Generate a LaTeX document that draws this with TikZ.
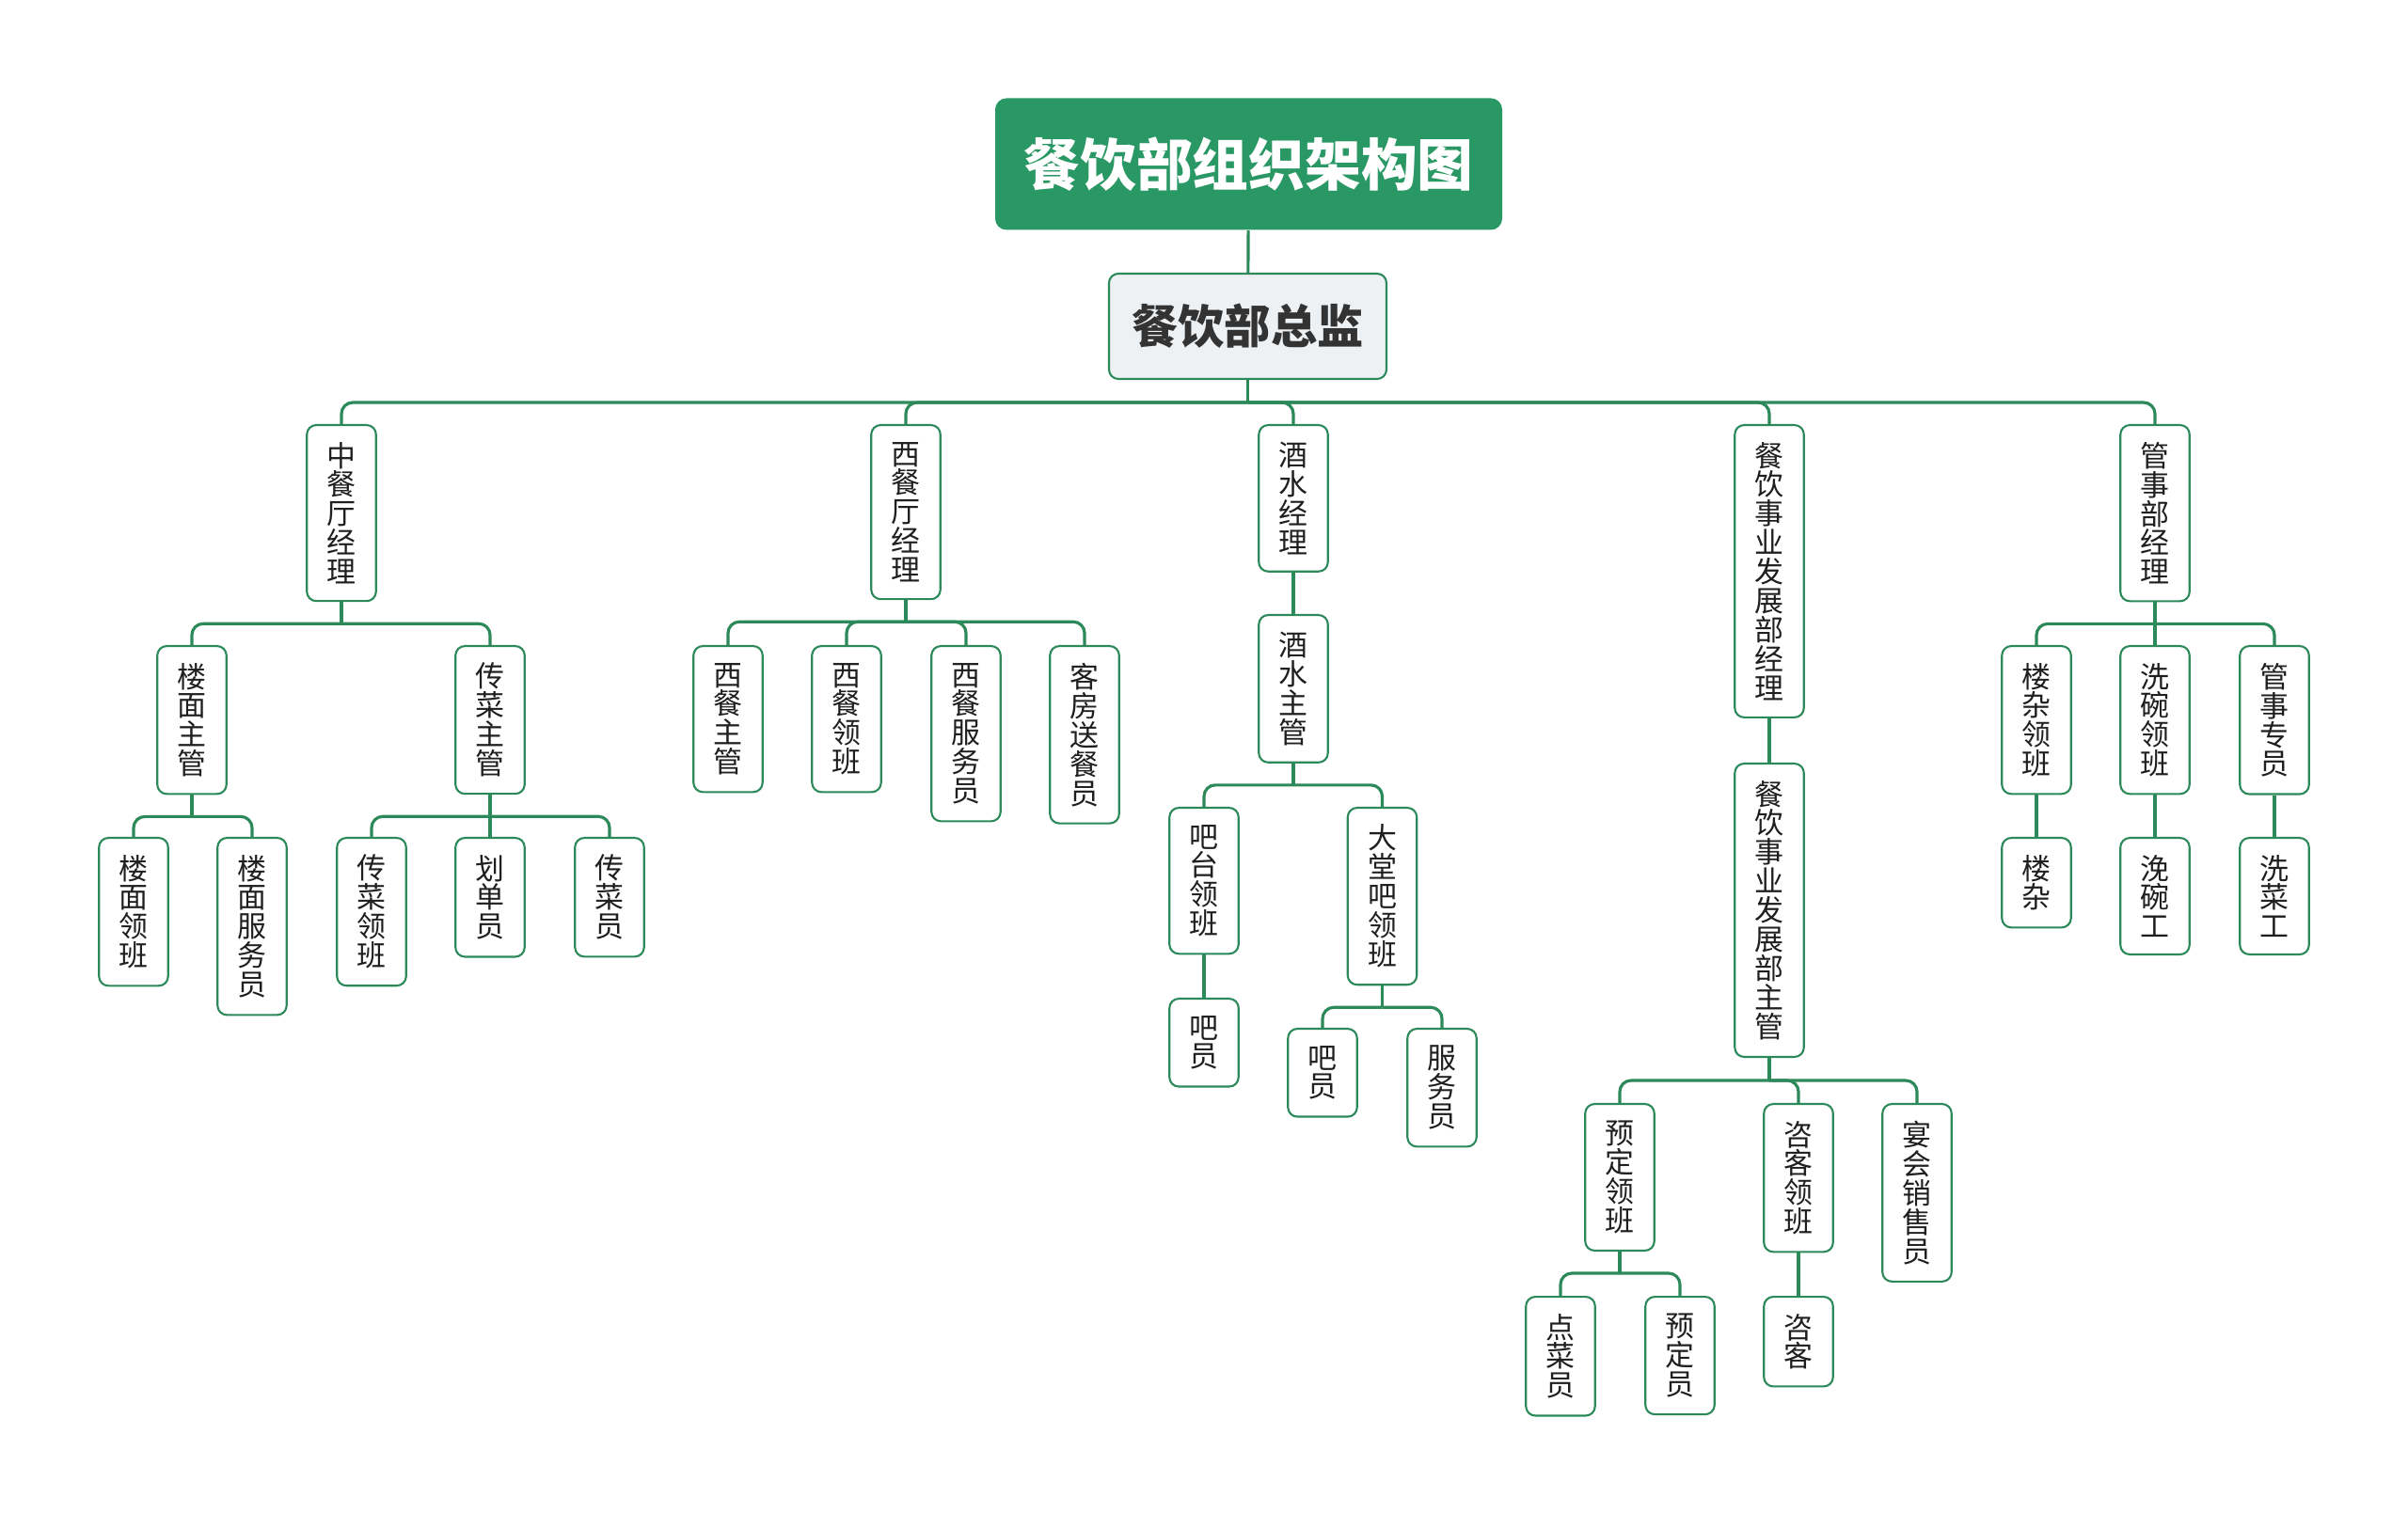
\documentclass[tikz,border=0pt]{standalone}
\usepackage{fontspec}
\newfontfamily\cjk{Noto Sans CJK SC}
\usetikzlibrary{positioning,calc}
\definecolor{mgreen}{RGB}{41,152,101}
\definecolor{lgreen}{RGB}{44,137,90}
\definecolor{dgray}{RGB}{51,51,51}
\definecolor{lgray}{RGB}{237,241,244}
\tikzset{font=\cjk}

\begin{document}
\begin{tikzpicture}
	\useasboundingbox (0,0) rectangle (25.6,-16.09);
	\begin{scope}
		\tikzstyle{box}=[draw=lgreen, line width=0.6pt, fill=white, rounded corners=0.1cm, minimum width=0.735cm, inner xsep=0pt, inner ysep=0.18cm, anchor=north, align=center, text=black!88, font=\cjk\fontsize{8.8pt}{8.8pt}\selectfont]
		\tikzstyle{conn}=[draw=lgreen, line width=0.9pt, rounded corners=0.12cm]

		\node[fill=mgreen, rounded corners=0.12cm, minimum width=5.39cm, minimum height=1.4cm, text=white, font=\cjk\bfseries\fontsize{17pt}{17pt}\selectfont] (t) at (13.275, -1.745) {餐饮部组织架构图};
		\node[draw=lgreen, fill=lgray, line width=0.6pt, rounded corners=0.1cm, minimum width=2.95cm, minimum height=1.12cm, text=dgray, font=\cjk\bfseries\fontsize{14pt}{14pt}\selectfont] (d) at (13.265, -3.47) {餐饮部总监};

		\node[box] (zc) at (3.63, -4.51) {中\\餐\\厅\\经\\理};
		\node[box] (xc) at (9.63, -4.51) {西\\餐\\厅\\经\\理};
		\node[box] (js) at (13.75, -4.51) {酒\\水\\经\\理};
		\node[box] (fz) at (18.81, -4.51) {餐\\饮\\事\\业\\发\\展\\部\\经\\理};
		\node[box] (gs) at (22.91, -4.51) {管\\事\\部\\经\\理};

		\node[box] (lm) at (2.04, -6.86) {楼\\面\\主\\管};
		\node[box] (cc) at (5.21, -6.86) {传\\菜\\主\\管};
		\node[box] (lm1) at (1.42, -8.90) {楼\\面\\领\\班};
		\node[box] (lm2) at (2.68, -8.90) {楼\\面\\服\\务\\员};
		\node[box] (cc1) at (3.95, -8.90) {传\\菜\\领\\班};
		\node[box] (cc2) at (5.21, -8.90) {划\\单\\员};
		\node[box] (cc3) at (6.48, -8.90) {传\\菜\\员};

		\node[box] (xc1) at (7.74, -6.86) {西\\餐\\主\\管};
		\node[box] (xc2) at (9.00, -6.86) {西\\餐\\领\\班};
		\node[box] (xc3) at (10.27, -6.86) {西\\餐\\服\\务\\员};
		\node[box] (xc4) at (11.53, -6.86) {客\\房\\送\\餐\\员};

		\node[box] (jz) at (13.75, -6.53) {酒\\水\\主\\管};
		\node[box] (bt) at (12.80, -8.58) {吧\\台\\领\\班};
		\node[box] (dt) at (14.695, -8.58) {大\\堂\\吧\\领\\班};
		\node[box] (bt1) at (12.80, -10.61) {吧\\员};
		\node[box] (dt1) at (14.06, -10.93) {吧\\员};
		\node[box] (dt2) at (15.33, -10.93) {服\\务\\员};

		\node[box] (fzz) at (18.81, -8.11) {餐\\饮\\事\\业\\发\\展\\部\\主\\管};
		\node[box] (yd) at (17.22, -11.73) {预\\定\\领\\班};
		\node[box] (zk) at (19.12, -11.73) {咨\\客\\领\\班};
		\node[box] (yh) at (20.38, -11.73) {宴\\会\\销\\售\\员};
		\node[box] (yd1) at (16.59, -13.78) {点\\菜\\员};
		\node[box] (yd2) at (17.86, -13.78) {预\\定\\员};
		\node[box] (zk1) at (19.12, -13.78) {咨\\客};

		\node[box] (gs1) at (21.65, -6.86) {楼\\杂\\领\\班};
		\node[box] (gs2) at (22.91, -6.86) {洗\\碗\\领\\班};
		\node[box] (gs3) at (24.18, -6.86) {管\\事\\专\\员};
		\node[box] (gs4) at (21.65, -8.90) {楼\\杂};
		\node[box] (gs5) at (22.91, -8.90) {浼\\碗\\工};
		\node[box] (gs6) at (24.18, -8.90) {洗\\菜\\工};

		\draw[conn] (t) -- (d);
		\draw[conn] (d.south) -- ++(0,-0.24) coordinate (d0);
		\draw[conn] (d0) -| (zc.north);
		\draw[conn] (d0) -| (xc.north);
		\draw[conn] (d0) -| (js.north);
		\draw[conn] (d0) -| (fz.north);
		\draw[conn] (d0) -| (gs.north);

		\draw[conn] (zc.south) -- ++(0,-0.23) coordinate (zc0);
		\draw[conn] (zc0) -| (lm.north);
		\draw[conn] (zc0) -| (cc.north);
		\draw[conn] (lm.south) -- ++(0,-0.23) coordinate (lm0);
		\draw[conn] (lm0) -| (lm1.north);
		\draw[conn] (lm0) -| (lm2.north);
		\draw[conn] (cc.south) -- ++(0,-0.23) coordinate (cc0);
		\draw[conn] (cc0) -| (cc1.north);
		\draw[conn] (cc0) -| (cc2.north);
		\draw[conn] (cc0) -| (cc3.north);

		\draw[conn] (xc.south) -- ++(0,-0.23) coordinate (xc0);
		\draw[conn] (xc0) -| (xc1.north);
		\draw[conn] (xc0) -| (xc2.north);
		\draw[conn] (xc0) -| (xc3.north);
		\draw[conn] (xc0) -| (xc4.north);

		\draw[conn] (js) -- (jz);
		\draw[conn] (jz.south) -- ++(0,-0.23) coordinate (jz0);
		\draw[conn] (jz0) -| (bt.north);
		\draw[conn] (jz0) -| (dt.north);
		\draw[conn] (bt) -- (bt1);
		\draw[conn] (dt.south) -- ++(0,-0.23) coordinate (dt0);
		\draw[conn] (dt0) -| (dt1.north);
		\draw[conn] (dt0) -| (dt2.north);

		\draw[conn] (fz) -- (fzz);
		\draw[conn] (fzz.south) -- ++(0,-0.24) coordinate (fzz0);
		\draw[conn] (fzz0) -| (yd.north);
		\draw[conn] (fzz0) -| (zk.north);
		\draw[conn] (fzz0) -| (yh.north);
		\draw[conn] (yd.south) -- ++(0,-0.23) coordinate (yd0);
		\draw[conn] (yd0) -| (yd1.north);
		\draw[conn] (yd0) -| (yd2.north);
		\draw[conn] (zk) -- (zk1);

		\draw[conn] (gs.south) -- ++(0,-0.23) coordinate (gs0);
		\draw[conn] (gs0) -| (gs1.north);
		\draw[conn] (gs0) -| (gs2.north);
		\draw[conn] (gs0) -| (gs3.north);
		\draw[conn] (gs1) -- (gs4);
		\draw[conn] (gs2) -- (gs5);
		\draw[conn] (gs3) -- (gs6);
	\end{scope}
\end{tikzpicture}
\end{document}
